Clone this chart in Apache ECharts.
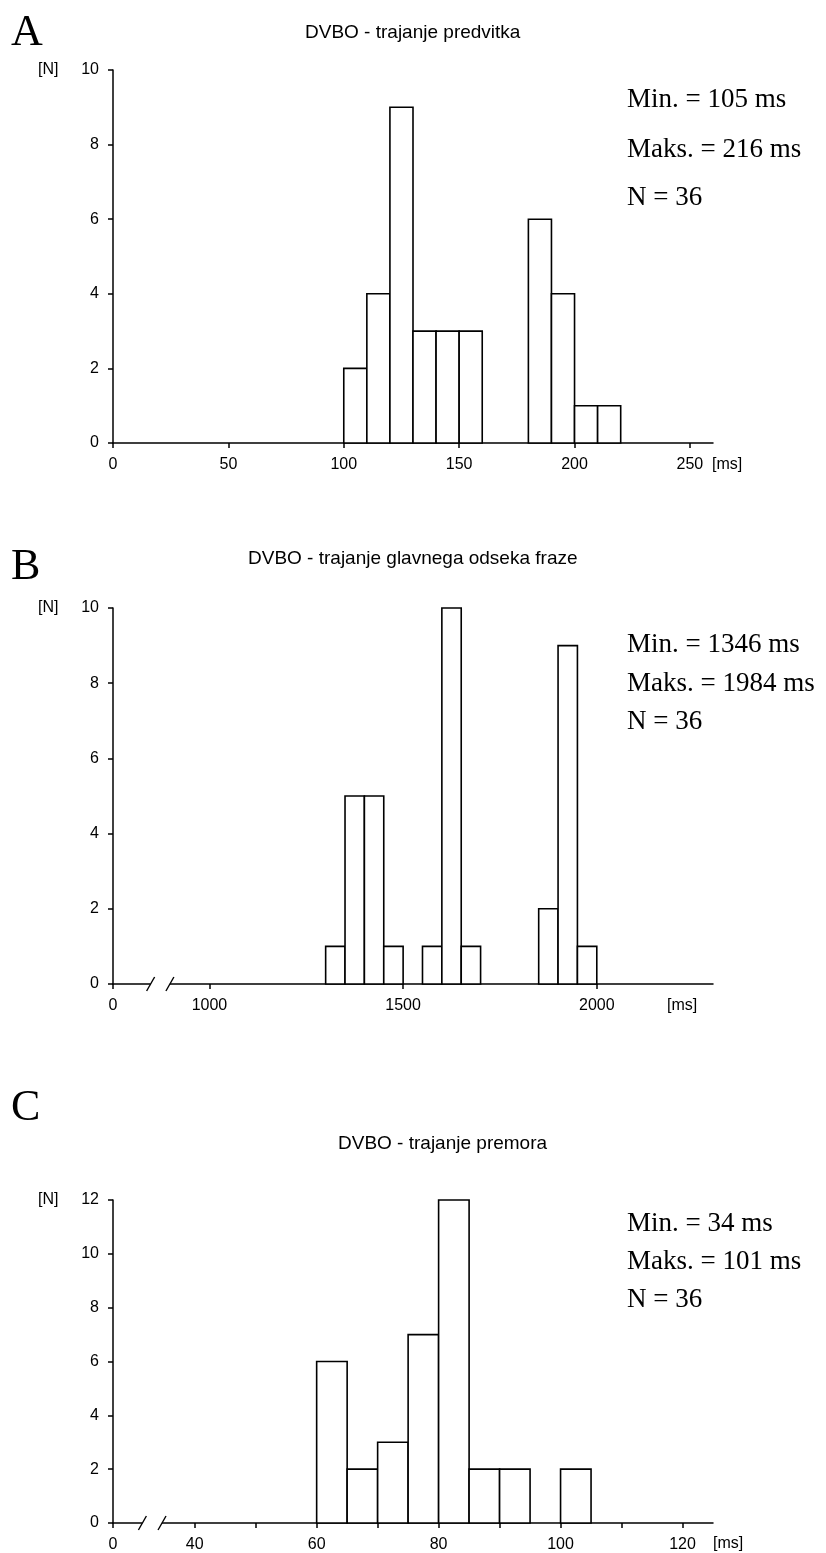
<!DOCTYPE html>
<html>
<head>
<meta charset="utf-8">
<script src="https://cdn.jsdelivr.net/npm/echarts@6/dist/echarts.min.js"></script>
<style>
html,body{margin:0;padding:0;background:#fff;}
#chart{width:826px;height:1553px;}
</style>
</head>
<body>
<div id="chart"></div>
<script>
// ---- Panel A: DVBO - trajanje predvitka ----
const titleA = 'DVBO - trajanje predvitka';
const binStartA = [100, 110, 120, 130, 140, 150, 160, 170, 180, 190, 200, 210];
const countsA   = [2, 4, 9, 3, 3, 3, 0, 0, 6, 4, 1, 1];
const binWidthA = 10;
const xTicksA = [0, 50, 100, 150, 200, 250];
const yTicksA = [0, 2, 4, 6, 8, 10];
const statsA = ['Min. = 105 ms', 'Maks. = 216 ms', 'N = 36'];

// ---- Panel B: DVBO - trajanje glavnega odseka fraze ----
const titleB = 'DVBO - trajanje glavnega odseka fraze';
const binStartB = [1300, 1350, 1400, 1450, 1500, 1550, 1600, 1650, 1700, 1750, 1800, 1850, 1900, 1950];
const countsB   = [1, 5, 5, 1, 0, 1, 10, 1, 0, 0, 0, 2, 9, 1];
const binWidthB = 50;
const xTicksB = [1000, 1500, 2000];
const yTicksB = [0, 2, 4, 6, 8, 10];
const statsB = ['Min. = 1346 ms', 'Maks. = 1984 ms', 'N = 36'];

// ---- Panel C: DVBO - trajanje premora ----
const titleC = 'DVBO - trajanje premora';
const binStartC = [60, 65, 70, 75, 80, 85, 90, 95, 100];
const countsC   = [6, 2, 3, 7, 12, 2, 2, 0, 2];
const binWidthC = 5;
const xTicksC = [40, 60, 80, 100, 120];
const xMinorTicksC = [50, 70, 90, 110];
const yTicksC = [0, 2, 4, 6, 8, 10, 12];
const statsC = ['Min. = 34 ms', 'Maks. = 101 ms', 'N = 36'];

const panelLetters = ['A', 'B', 'C'];

// axis extents (broken axes B and C start at a compressed origin labelled "0")
const xRangeA = [0, 260];
const xRangeB = [751, 2300];
const xRangeC = [26.6, 125];

const chart = echarts.init(document.getElementById('chart'), null, {renderer: 'canvas'});

const SANS = 'Liberation Sans, Arial, sans-serif';
const SERIF = 'Liberation Serif, Times New Roman, serif';
const TICK_FS = 16;

const grids = [
  {left: 113, top: 70,   width: 600, height: 373},
  {left: 113, top: 608,  width: 600, height: 376},
  {left: 113, top: 1200, width: 600, height: 323}
];

function xAxis(idx, range, labelVals, tickVals, originLabel) {
  return {
    type: 'value', gridIndex: idx, min: range[0], max: range[1],
    axisLine: {show: true, onZero: false, lineStyle: {color: '#000', width: 1.5}},
    axisTick: {show: true, length: 5, lineStyle: {color: '#000', width: 1.5}, customValues: tickVals},
    axisLabel: {
      color: '#000', fontFamily: SANS, fontSize: TICK_FS, margin: 14,
      customValues: labelVals,
      formatter: function (v) { return (originLabel && Math.abs(v - range[0]) < 1e-6) ? '0' : String(v); }
    },
    splitLine: {show: false}
  };
}
function yAxis(idx, ticks) {
  return {
    type: 'value', gridIndex: idx, min: ticks[0], max: ticks[ticks.length - 1], interval: 2,
    axisLine: {show: true, lineStyle: {color: '#000', width: 1.5}},
    axisTick: {show: true, length: 5, lineStyle: {color: '#000', width: 1.5}},
    axisLabel: {color: '#000', fontFamily: SANS, fontSize: TICK_FS, margin: 14},
    splitLine: {show: false}
  };
}

function histSeries(idx, starts, counts, width) {
  return {
    type: 'custom', xAxisIndex: idx, yAxisIndex: idx,
    data: starts.map((s, i) => [s, counts[i]]),
    encode: {x: 0, y: 1},
    renderItem: function (params, api) {
      const s = api.value(0), c = api.value(1);
      if (!c) return null;
      const p0 = api.coord([s, 0]);
      const p1 = api.coord([s + width, c]);
      return {
        type: 'rect',
        shape: {x: p0[0], y: p1[1], width: p1[0] - p0[0], height: p0[1] - p1[1]},
        style: {fill: '#fff', stroke: '#000', lineWidth: 1.6}
      };
    }
  };
}

const titleTops = [18, 544, 1129];
const titleLefts = [300, 243, 333];
const titles = [titleA, titleB, titleC];
const letterTops = [6, 540, 1081];
const statsList = [statsA, statsB, statsC];
const statTops = [[86, 136, 184], [631, 670, 708], [1210, 1248, 1286]];

const option = {
  animation: false,
  backgroundColor: '#fff',
  title: titles.map((t, i) => ({
    text: t, left: titleLefts[i], top: titleTops[i],
    textStyle: {fontFamily: SANS, fontSize: 19, fontWeight: 'normal', color: '#000'}
  })).concat(panelLetters.map((l, i) => ({
    text: l, left: 6, top: letterTops[i],
    textStyle: {fontFamily: SERIF, fontSize: 44, fontWeight: 'normal', color: '#000'}
  }))),
  grid: grids,
  xAxis: [
    xAxis(0, xRangeA, xTicksA, xTicksA, false),
    xAxis(1, xRangeB, [xRangeB[0]].concat(xTicksB), [xRangeB[0]].concat(xTicksB), true),
    xAxis(2, xRangeC, [xRangeC[0]].concat(xTicksC), [xRangeC[0]].concat(xTicksC, xMinorTicksC).sort((a, b) => a - b), true)
  ],
  yAxis: [yAxis(0, yTicksA), yAxis(1, yTicksB), yAxis(2, yTicksC)],
  series: [
    histSeries(0, binStartA, countsA, binWidthA),
    histSeries(1, binStartB, countsB, binWidthB),
    histSeries(2, binStartC, countsC, binWidthC)
  ]
};
chart.setOption(option);

// decorations: axis unit labels, statistics, axis-break marks
function buildGraphics() {
  const els = [];
  const tops = [70, 608, 1200];
  const ranges = [xRangeA, xRangeB, xRangeC];
  for (let i = 0; i < 3; i++) {
    els.push({type: 'text', x: 38, y: tops[i], style: {text: '[N]', font: TICK_FS + 'px ' + SANS, fill: '#000', textVerticalAlign: 'middle'}});
    statsList[i].forEach((s, k) => {
      els.push({type: 'text', x: 627, y: statTops[i][k], style: {text: s, font: '27px ' + SERIF, fill: '#000'}});
    });
  }
  // [ms] labels
  const msPos = [[712, 465], [667, 1006], [713, 1544]];
  msPos.forEach(p => els.push({type: 'text', x: p[0], y: p[1], style: {text: '[ms]', font: TICK_FS + 'px ' + SANS, fill: '#000', textVerticalAlign: 'middle'}}));
  // break marks on B and C
  const breaks = [[1, 0.39, 0.59], [2, 0.36, 0.60]];
  breaks.forEach(b => {
    const i = b[0], r = ranges[i];
    const firstTick = i === 1 ? xTicksB[0] : xTicksC[0];
    const x0 = chart.convertToPixel({xAxisIndex: i}, r[0]);
    const x1 = chart.convertToPixel({xAxisIndex: i}, firstTick);
    const y = grids[i].top + grids[i].height;
    const xa = x0 + (x1 - x0) * b[1];
    const xb = x0 + (x1 - x0) * b[2];
    els.push({type: 'rect', shape: {x: xa, y: y - 2, width: xb - xa, height: 4}, style: {fill: '#fff'}, z: 100});
    [xa, xb].forEach(x => els.push({type: 'line', shape: {x1: x - 4, y1: y + 7, x2: x + 4, y2: y - 7}, style: {stroke: '#000', lineWidth: 1.4}, z: 101}));
  });
  return els;
}
chart.setOption({graphic: buildGraphics()});
</script>
</body>
</html>
